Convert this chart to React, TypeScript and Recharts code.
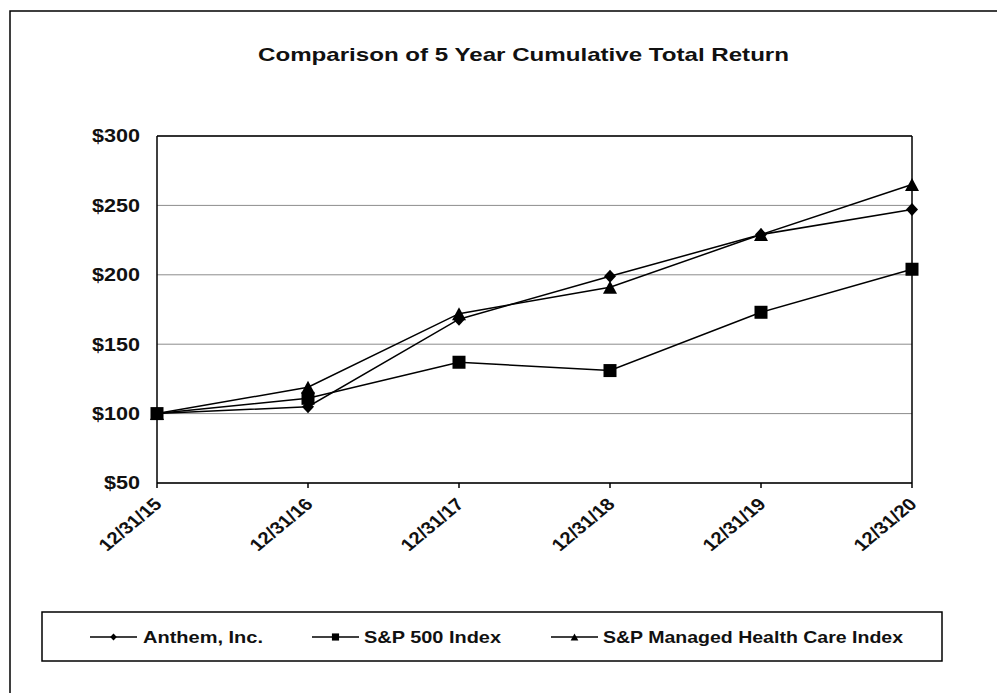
import React from "react";
import { LineChart, Line, XAxis, YAxis, CartesianGrid, ReferenceLine } from "recharts";

// values (index = 100 at 12/31/15)
const dates = ["12/31/15", "12/31/16", "12/31/17", "12/31/18", "12/31/19", "12/31/20"];
const anthem = [100, 105, 168, 199, 229, 247];
const sp500 = [100, 111, 137, 131, 173, 204];
const managedCare = [100, 119, 172, 191, 229, 265];
const yTicks = [50, 100, 150, 200, 250, 300];
const seriesNames = ["Anthem, Inc.", "S&P 500 Index", "S&P Managed Health Care Index"];

const chartData = dates.map((date, i) => ({
    date,
    anthem: anthem[i],
    sp500: sp500[i],
    managedCare: managedCare[i],
}));

const FONT = "Arial, 'Liberation Sans', sans-serif";
const STRETCH = 1.2; // the reference is stretched sideways

type Shape = "diamond" | "square" | "triangle";

const Marker = ({ cx, cy, shape, s = 1 }: { cx: number; cy: number; shape: Shape; s?: number }) => {
    if (shape === "diamond") {
        const w = 6 * s, h = 6.5 * s;
        return <polygon points={`${cx},${cy - h} ${cx + w},${cy} ${cx},${cy + h} ${cx - w},${cy}`} fill="#000" />;
    }
    if (shape === "square") {
        const h = 6.5 * s;
        return <rect x={cx - h} y={cy - h} width={h * 2} height={h * 2} fill="#000" />;
    }
    const w = 7 * s, h = 6.5 * s;
    return <polygon points={`${cx},${cy - h} ${cx + w},${cy + h} ${cx - w},${cy + h}`} fill="#000" />;
};

const makeDot = (shape: Shape) => (props: any) => {
    const { cx, cy, index } = props;
    if (cx == null || cy == null) return <g key={`${shape}-${index}`} />;
    return <Marker key={`${shape}-${index}`} cx={cx} cy={cy} shape={shape} />;
};

const YTick = (props: any) => {
    const { x, y, payload } = props;
    return (
        <g transform={`translate(${x},${y}) scale(${STRETCH},1)`}>
            <text textAnchor="end" dy="0.36em" fontSize={18} fontWeight="bold" fontFamily={FONT} fill="#111">
                ${payload.value}
            </text>
        </g>
    );
};

const XTick = (props: any) => {
    const { x, y, payload } = props;
    return (
        <g transform={`translate(${x + 1},${y + 11}) scale(${STRETCH},1) rotate(-45)`}>
            <text textAnchor="end" dy="0.35em" fontSize={17} fontWeight="bold" fontFamily={FONT} fill="#111">
                {payload.value}
            </text>
        </g>
    );
};

const legendItems: { shape: Shape; lineX: number; textX: number; textW: number }[] = [
    { shape: "diamond", lineX: 90, textX: 143, textW: 120 },
    { shape: "square", lineX: 312, textX: 364, textW: 137 },
    { shape: "triangle", lineX: 551, textX: 603, textW: 300 },
];

const App = () => {
    return (
        <div style={{ position: "absolute", left: 0, top: 0, width: 997, height: 693, background: "#fff" }}>
            <LineChart
                width={997}
                height={693}
                data={chartData}
                margin={{ top: 136, right: 85, bottom: 150, left: 97 }}
            >
                <CartesianGrid horizontal vertical={false} stroke="#8c8c8c" strokeWidth={1} />
                <XAxis
                    dataKey="date"
                    height={60}
                    interval={0}
                    axisLine={{ stroke: "#000", strokeWidth: 1.5 }}
                    tickLine={{ stroke: "#000", strokeWidth: 1.5 }}
                    tickSize={5}
                    tick={<XTick />}
                />
                <YAxis
                    width={60}
                    domain={[50, 300]}
                    ticks={yTicks}
                    interval={0}
                    axisLine={{ stroke: "#000", strokeWidth: 1.5 }}
                    tickLine={false}
                    tickSize={0}
                    tickMargin={17}
                    tick={<YTick />}
                />
                <ReferenceLine y={300} stroke="#000" strokeWidth={1.5} />
                <ReferenceLine x={dates[dates.length - 1]} stroke="#000" strokeWidth={1.5} />
                <Line
                    dataKey="anthem"
                    name={seriesNames[0]}
                    stroke="#000"
                    strokeWidth={1.5}
                    dot={makeDot("diamond")}
                    isAnimationActive={false}
                />
                <Line
                    dataKey="sp500"
                    name={seriesNames[1]}
                    stroke="#000"
                    strokeWidth={1.5}
                    dot={makeDot("square")}
                    isAnimationActive={false}
                />
                <Line
                    dataKey="managedCare"
                    name={seriesNames[2]}
                    stroke="#000"
                    strokeWidth={1.5}
                    dot={makeDot("triangle")}
                    isAnimationActive={false}
                />
            </LineChart>
            <svg
                width={997}
                height={693}
                style={{ position: "absolute", left: 0, top: 0, pointerEvents: "none" }}
            >
                {/* outer frame, only top and left edges are inside the picture */}
                <path d="M10,693 L10,11 L997,11" fill="none" stroke="#000" strokeWidth={1.5} />
                <text
                    x={523.5}
                    y={61}
                    textAnchor="middle"
                    fontSize={18.5}
                    fontWeight="bold"
                    fontFamily={FONT}
                    fill="#111"
                    textLength={531}
                    lengthAdjust="spacingAndGlyphs"
                >
                    Comparison of 5 Year Cumulative Total Return
                </text>
                <rect x={42} y={612} width={900} height={49} fill="none" stroke="#000" strokeWidth={1.5} />
                {legendItems.map((item, i) => (
                    <g key={seriesNames[i]}>
                        <line x1={item.lineX} x2={item.lineX + 47} y1={637} y2={637} stroke="#000" strokeWidth={1.5} />
                        <Marker cx={item.lineX + 23.5} cy={637} shape={item.shape} s={0.55} />
                        <text
                            x={item.textX}
                            y={643}
                            fontSize={17}
                            fontWeight="bold"
                            fontFamily={FONT}
                            fill="#111"
                            textLength={item.textW}
                            lengthAdjust="spacingAndGlyphs"
                        >
                            {seriesNames[i]}
                        </text>
                    </g>
                ))}
            </svg>
        </div>
    );
};

export default App;
